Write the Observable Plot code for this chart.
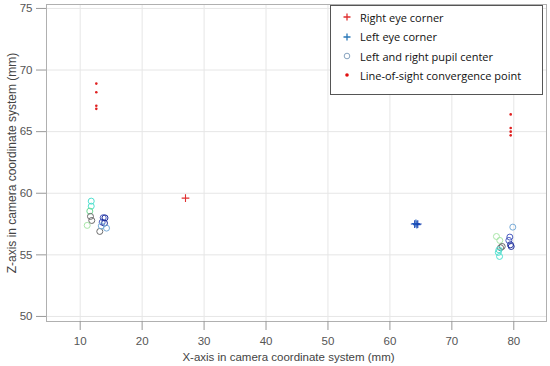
<!DOCTYPE html>
<html><head><meta charset="utf-8">
<script src="https://cdn.jsdelivr.net/npm/d3@7"></script>
<script src="https://cdn.jsdelivr.net/npm/@observablehq/plot@0.6"></script>
<style>
body{margin:0;background:#fff}
#wrap{position:relative;width:550px;height:366px}
#legend{position:absolute;left:330px;top:5px;width:211px;height:88px;border:1px solid #555;background:#fff;font-family:"Open Sans",sans-serif;font-size:11px;color:#111}
#legend .row{position:absolute;left:0;height:20px;display:flex;align-items:center}
#legend svg{width:29px;height:20px}
</style></head>
<body><div id="wrap"></div>
<script>
const rightEyeX = [27.0];
const rightEyeZ = [59.6];
const leftEyeX = [64.0, 64.2, 64.35, 64.5];
const leftEyeZ = [57.5, 57.55, 57.45, 57.5];
const leftEyeShade = ["a", "b", "b", "a"];
const pupilX = [11.78, 11.78, 11.55, 11.66, 11.87, 11.13, 13.71, 13.55, 13.92, 14.25, 13.16, 13.4, 14.0,
                79.84, 77.2, 77.74, 79.36, 79.2, 79.47, 79.58, 78.13, 77.86, 77.6, 77.5, 77.7];
const pupilZ = [59.36, 58.95, 58.55, 58.12, 57.79, 57.39, 58.01, 57.65, 57.57, 57.17, 56.9, 57.35, 58.0,
                57.25, 56.49, 56.17, 56.44, 56.17, 55.82, 55.68, 55.68, 55.58, 55.41, 55.2, 54.87];
const pupilGroup = ["cyan","cyan","green","gray","gray","lightgreen","blue","blue","navy","lightblue","gray","lightblue","navy",
                    "lightblue","lightgreen","lightgreen","blue","blue","navy","navy","gray","gray","cyan","cyan","cyan"];
const convX = [12.6, 12.6, 12.6, 12.6, 79.5, 79.5, 79.5, 79.5];
const convZ = [68.9, 68.2, 67.1, 66.85, 66.4, 65.3, 65.0, 64.7];
const xTicks = [10, 20, 30, 40, 50, 60, 70, 80];
const zTicks = [50, 55, 60, 65, 70, 75];
const legendLabels = ["Right eye corner", "Left eye corner", "Left and right pupil center", "Line-of-sight convergence point"];

const pupilColors = {cyan:"#4fe0cf", green:"#6fdc93", lightgreen:"#a8e6a8", gray:"#6b6b6b", blue:"#4a5cc0", navy:"#1f2f9c", lightblue:"#79acd8"};
const idx = (a) => a.map((_, i) => i);

const chart = Plot.plot({
  width: 550, height: 366,
  marginLeft: 46, marginRight: 4, marginTop: 4, marginBottom: 45,
  style: {fontFamily: "Liberation Sans, Arial, sans-serif", fontSize: "11px", color: "#444", background: "#fff"},
  x: {domain: [4.56, 85.28]},
  y: {domain: [49.59, 75.32]},
  marks: [
    Plot.gridX(xTicks, {stroke: "#e6e6e6", strokeOpacity: 1}),
    Plot.gridY(zTicks, {stroke: "#e6e6e6", strokeOpacity: 1}),
    Plot.frame({stroke: "#b0b0b0"}),
    Plot.axisX(xTicks, {tickSize: 9, tickPadding: 6, stroke: "#999", label: null, fontSize: 11.5, fill: "#555"}),
    Plot.axisY(zTicks, {tickSize: 10, tickPadding: 4, stroke: "#999", label: null, fontSize: 11.5, fill: "#555"}),
    Plot.text(["X-axis in camera coordinate system (mm)"], {frameAnchor: "bottom", dy: 39, dx: -8, fontSize: 11.5, fill: "#444"}),
    Plot.text(["Z-axis in camera coordinate system (mm)"], {frameAnchor: "left", dx: -34, rotate: -90, textAnchor: "middle", fontSize: 12, fill: "#444"}),
    Plot.dot(idx(pupilX), {x: i => pupilX[i], y: i => pupilZ[i], r: 3, stroke: i => pupilColors[pupilGroup[i]], strokeWidth: 1, fill: "none"}),
    Plot.dot(idx(rightEyeX), {x: i => rightEyeX[i], y: i => rightEyeZ[i], symbol: "plus", r: 2.6, stroke: "#e03030", strokeWidth: 1.1}),
    Plot.dot(idx(leftEyeX), {x: i => leftEyeX[i], y: i => leftEyeZ[i], symbol: "plus", r: 2.6, stroke: i => leftEyeShade[i] === "a" ? "#1a3fb0" : "#2060c0", strokeWidth: 1.1}),
    Plot.dot(idx(convX), {x: i => convX[i], y: i => convZ[i], r: 1.3, fill: "#e02020", stroke: "none"})
  ]
});
const wrap = document.getElementById("wrap");
wrap.appendChild(chart);

const legend = document.createElement("div");
legend.id = "legend";
const syms = [
  '<path d="M16,6.5V13.5M12.5,10H19.5" stroke="#e03030" stroke-width="1.3"/>',
  '<path d="M16,6.5V13.5M12.5,10H19.5" stroke="#2a78b8" stroke-width="1.3"/>',
  '<circle cx="16" cy="10" r="2.8" fill="none" stroke="#7a9ab8" stroke-width="0.9"/>',
  '<circle cx="16" cy="10" r="1.8" fill="#e01010"/>'
];
const tops = [1, 20.5, 40, 59];
legendLabels.forEach((t, i) => {
  const row = document.createElement("div");
  row.className = "row";
  row.style.top = tops[i] + "px";
  row.innerHTML = '<svg viewBox="0 0 29 20">' + syms[i] + '</svg><span>' + t + '</span>';
  legend.appendChild(row);
});
wrap.appendChild(legend);
</script>
</body></html>
